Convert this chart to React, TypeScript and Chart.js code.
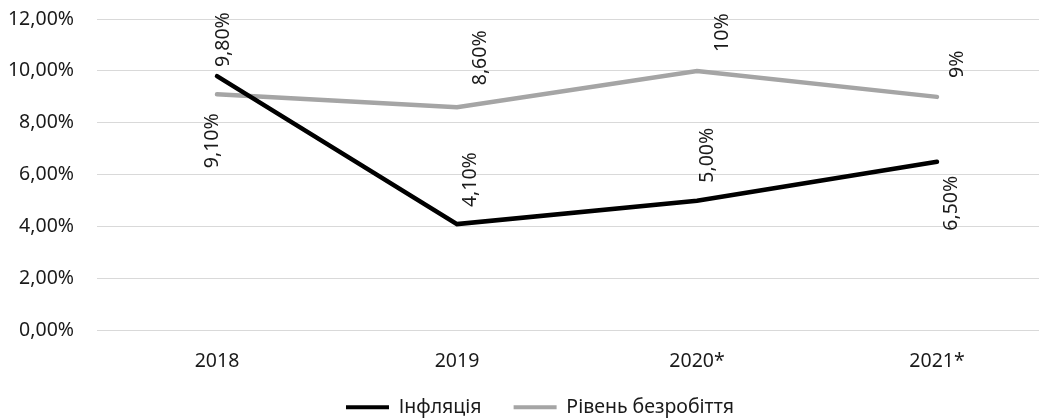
import React, { useEffect, useRef } from "react";
import { Chart, registerables } from "chart.js";

Chart.register(...registerables);

const categories = ["2018", "2019", "2020*", "2021*"];
const inflation = [9.8, 4.1, 5.0, 6.5];
const unemployment = [9.1, 8.6, 10, 9];
const inflationLabels = ["9,80%", "4,10%", "5,00%", "6,50%"];
const unemploymentLabels = ["9,10%", "8,60%", "10%", "9%"];
const seriesNames = ["Інфляція", "Рівень безробіття"];
const yTicks = [0, 2, 4, 6, 8, 10, 12];

// label placement: [dx, gap] — negative gap = above the point, positive = below
const inflationLabelPos = [[6, -9], [13, -17], [10, -18], [14, 14]];
const unemploymentLabelPos = [[-5, 19], [23, -22], [25, -19], [20, -19]];

const FONT = "'Noto Sans', 'Open Sans', sans-serif";
const FS = 19.5;

export default function App() {
  const ref = useRef<HTMLCanvasElement | null>(null);

  useEffect(() => {
    document.body.style.margin = "0";
    const canvas = ref.current;
    if (!canvas) return;
    const allLabels = [inflationLabels, unemploymentLabels];
    const allPos = [inflationLabelPos, unemploymentLabelPos];

    const labelPlugin = {
      id: "vlabels",
      afterLayout(chart: any) {
        // centre the legend over the full (uncropped) figure width
        if (chart.legend) chart.legend.right = chart.width;
      },
      afterDatasetsDraw(chart: any) {
        const ctx = chart.ctx;
        chart.data.datasets.forEach((_ds: any, di: number) => {
          const meta = chart.getDatasetMeta(di);
          meta.data.forEach((pt: any, i: number) => {
            const [dx, gap] = allPos[di][i];
            ctx.save();
            ctx.translate(pt.x + dx, pt.y + gap);
            ctx.rotate(-Math.PI / 2);
            ctx.font = `${FS}px ${FONT}`;
            ctx.fillStyle = "#1a1a1a";
            ctx.textAlign = gap < 0 ? "left" : "right";
            ctx.textBaseline = "middle";
            ctx.fillText(allLabels[di][i], 0, 0);
            ctx.restore();
          });
        });
      },
    };

    const chart = new Chart(canvas, {
      type: "line",
      data: {
        labels: categories,
        datasets: [
          {
            label: seriesNames[0],
            data: inflation,
            borderColor: "#000000",
            backgroundColor: "#000000",
            borderWidth: 4.5,
            pointRadius: 0,
            borderCapStyle: "round",
            borderJoinStyle: "miter",
            tension: 0,
          },
          {
            label: seriesNames[1],
            data: unemployment,
            borderColor: "#a5a5a5",
            backgroundColor: "#a5a5a5",
            borderWidth: 4.5,
            pointRadius: 0,
            borderCapStyle: "round",
            borderJoinStyle: "miter",
            tension: 0,
          },
        ],
      },
      options: {
        responsive: false,
        animation: false,
        devicePixelRatio: 1,
        layout: { padding: { top: 19, right: 23, left: 0, bottom: 0 } },
        plugins: {
          tooltip: { enabled: false },
          legend: {
            position: "bottom",
            labels: {
              font: { family: FONT, size: FS },
              color: "#1a1a1a",
              boxWidth: 43,
              boxHeight: 4,
              padding: 27,
              generateLabels(chart: any) {
                const items = Chart.defaults.plugins.legend.labels.generateLabels(chart);
                items.forEach((it: any, i: number) => {
                  it.lineWidth = 0;
                  it.strokeStyle = "rgba(0,0,0,0)";
                  if (i === 0) it.text = it.text + " ";
                });
                return items;
              },
            },
          },
        },
        scales: {
          x: {
            offset: true,
            grid: { display: false, drawTicks: false, offset: true },
            border: { display: false },
            ticks: {
              font: { family: FONT, size: FS },
              color: "#1a1a1a",
              padding: 19,
              maxRotation: 0,
            },
            afterFit(scale: any) {
              scale.height = 40;
            },
          },
          y: {
            min: 0,
            max: 12,
            afterBuildTicks(scale: any) {
              scale.ticks = yTicks.map((v) => ({ value: v }));
            },
            grid: { color: "#d9d9d9", lineWidth: 1, drawTicks: false },
            border: { display: false },
            ticks: {
              font: { family: FONT, size: FS },
              color: "#1a1a1a",
              padding: 23,
              callback: (v: any) => Number(v).toFixed(2).replace(".", ",") + "%",
            },
            afterFit(scale: any) {
              scale.width = 97;
              scale.paddingTop = 0;
              scale.paddingBottom = 0;
            },
          },
        },
      },
      plugins: [labelPlugin],
    });
    return () => chart.destroy();
  }, []);

  return (
    <div
      style={{
        position: "fixed",
        left: 0,
        top: 0,
        width: 1039,
        height: 419,
        overflow: "hidden",
        background: "#fff",
      }}
    >
      <canvas ref={ref} width={1080} height={427} style={{ display: "block" }} />
    </div>
  );
}
